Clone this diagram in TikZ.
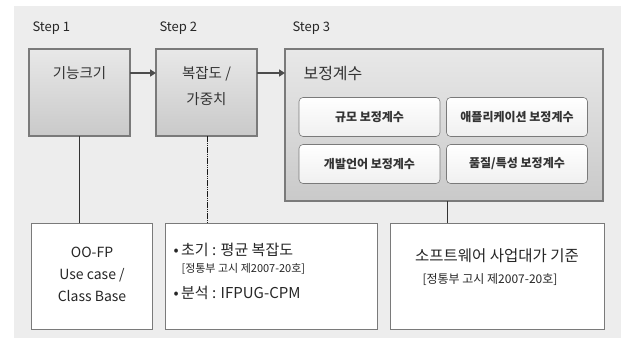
\documentclass[tikz,border=0pt]{standalone}
\usepackage{fontspec}
\setmainfont{Noto Sans CJK KR}
\usetikzlibrary{arrows.meta}
\definecolor{panelbg}{HTML}{EDEDED}
\definecolor{boxedge}{HTML}{7A7A7A}
\tikzset{
  stepbox/.style={draw=boxedge, line width=1.1pt, top color=gray!18, bottom color=gray!42},
  subbox/.style={draw=boxedge, line width=0.6pt, rounded corners=4pt, top color=white, bottom color=gray!12, minimum width=141pt, minimum height=39pt, font=\fontsize{12}{14}\selectfont\bfseries, text=black!80},
  notebox/.style={draw=boxedge, line width=0.8pt, fill=white, inner sep=0pt},
  flowarrow/.style={draw=black!70, line width=1.6pt, -{Triangle[length=6pt,width=7pt]}},
  link/.style={draw=black!80, line width=0.9pt},
  dottedlink/.style={draw=black!90, line width=1pt, dash pattern=on 1.6pt off 0.6pt},
  lbl/.style={font=\fontsize{13}{15}\selectfont, text=black!85},
}
\begin{document}
\begin{tikzpicture}[x=1pt,y=-1pt]
\useasboundingbox (0,0) rectangle (621,338);
\fill[white] (0,0) rectangle (621,338);
\fill[panelbg] (14,6) rectangle (621,338);

% step labels
\node[lbl, anchor=west] (s1) at (29,28) {Step 1};
\node[lbl, anchor=west] (s2) at (156,28) {Step 2};
\node[lbl, anchor=west] (s3) at (289,28) {Step 3};

% step boxes
\path[stepbox] (29,49) rectangle (130,136);
\node[font=\fontsize{14.5}{16}\selectfont, text=black!80] (t1) at (79.5,73) {기능크기};
\path[stepbox] (156,49) rectangle (257,136);
\node[font=\fontsize{14.5}{26}\selectfont, text=black!80, align=center] (t2) at (206.5,86) {복잡도 /\\가중치};
\path[stepbox] (285,49) rectangle (603,201);
\node[font=\fontsize{16}{18}\selectfont, text=black!80, anchor=west] (t3) at (300,74) {보정계수};

% named anchors of boxes
\coordinate (b1r) at (130,73);
\coordinate (b2l) at (156,73);
\coordinate (b2r) at (257,73);
\coordinate (b3l) at (285,73);
\coordinate (b1b) at (79,136);
\coordinate (b2b) at (207,136);
\coordinate (b3b) at (447,201);

% sub boxes
\node[subbox] (c1) at (369.5,117) {규모 보정계수};
\node[subbox] (c2) at (517,117) {애플리케이션 보정계수};
\node[subbox] (c3) at (369.5,164) {개발언어 보정계수};
\node[subbox] (c4) at (517,164) {품질/특성 보정계수};

% arrows
\draw[flowarrow] (b1r) -- (b2l);
\draw[flowarrow] (b2r) -- (b3l);

% note boxes
\node[notebox, minimum width=121pt, minimum height=106pt] (n1) at (92,276.5) {};
\node[font=\fontsize{14}{22}\selectfont, text=black!85, align=center] (n1t) at (92,274) {OO-FP\\Use case /\\Class Base};
\node[notebox, minimum width=212pt, minimum height=106pt] (n2) at (271,276.5) {};
\node[font=\fontsize{15}{17}\selectfont, text=black!85, anchor=west] (n2a) at (170,250) {•\,초기 : 평균 복잡도};
\node[font=\fontsize{11}{13}\selectfont, text=black!85, anchor=west] (n2b) at (178,269) {[정통부 고시 제2007-20호]};
\node[font=\fontsize{15}{17}\selectfont, text=black!85, anchor=west] (n2c) at (170,293) {•\,분석 : IFPUG-CPM};
\node[notebox, minimum width=214pt, minimum height=106pt] (n3) at (497,276.5) {};
\node[font=\fontsize{15.5}{17}\selectfont, text=black!85] (n3a) at (497,256) {소프트웨어 사업대가 기준};
\node[font=\fontsize{12}{14}\selectfont, text=black!85] (n3b) at (490,280) {[정통부 고시 제2007-20호]};

% connectors
\draw[link] (b1b) -- (b1b |- n1.north);
\draw[dottedlink] (b2b) -- (b2b |- n2.north);
\draw[link] (b3b) -- (b3b |- n3.north);
\end{tikzpicture}
\end{document}
